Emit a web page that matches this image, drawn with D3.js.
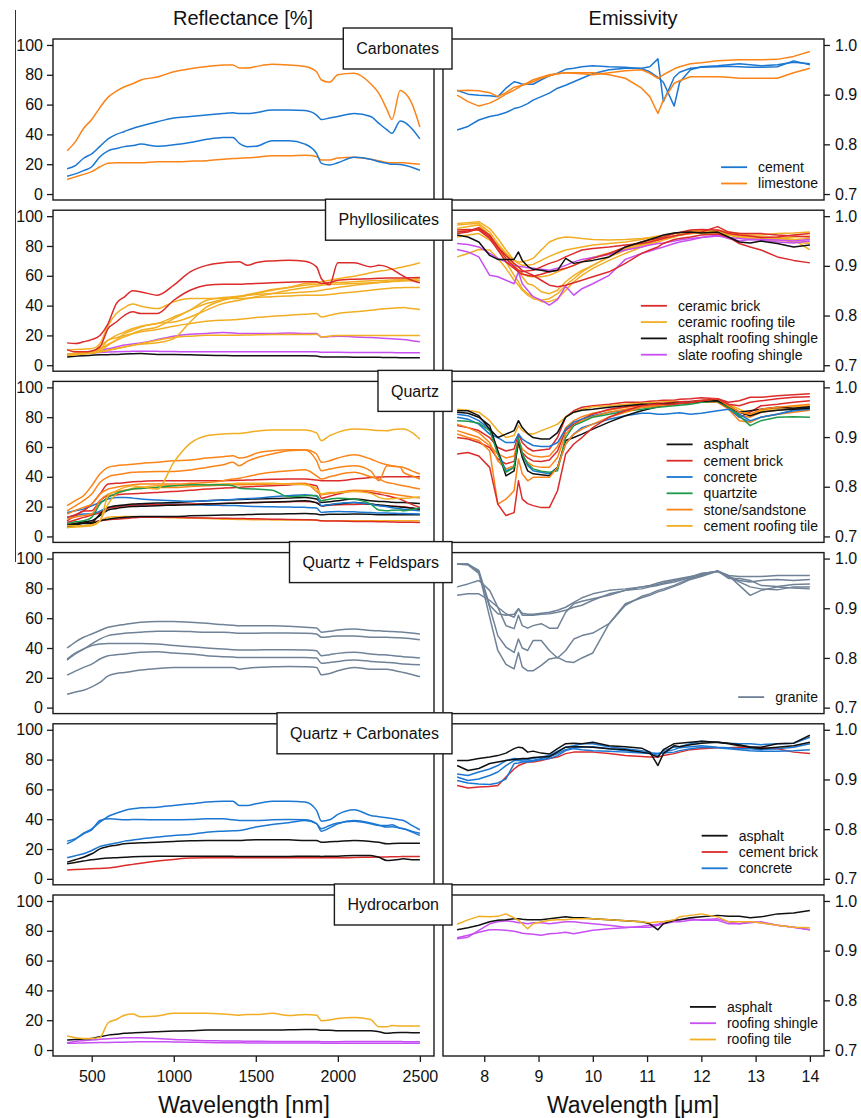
<!DOCTYPE html>
<html>
<head>
<meta charset="utf-8">
<script src="https://cdn.jsdelivr.net/npm/d3@7"></script>
<style>
  body { margin: 0; background: #fff; }
  svg { display: block; }
  text { font-family: "Liberation Sans", Arial, Helvetica, sans-serif; fill: #111; }
</style>
</head>
<body>
<script>
// ---------- sampling grids ----------
const reflWavelengths = [350,400,450,500,550, 600,650,700,750,800, 900,1000,1100,1200,1300,
  1360,1400,1450,1500,1600, 1700,1800,1870,1900,1950, 2000,2100,2200,2250,2300, 2330,2380,2400,2450,2500];
const emisWavelengths = [7.5,7.7,7.9,8.1,8.25, 8.4,8.55,8.63,8.7,8.8, 8.9,9.05,9.2,9.35,9.5,
  9.65,9.8,10.0,10.3,10.6, 10.9,11.05,11.2,11.3,11.5, 11.6,11.8,12.0,12.3,12.5, 12.7,12.9,13.1,13.4,13.7, 14.0];

const panelNames = ["Carbonates", "Phyllosilicates", "Quartz", "Quartz + Feldspars", "Quartz + Carbonates", "Hydrocarbon"];
const reflTicks = [0, 20, 40, 60, 80, 100];
const emisTicks = [0.7, 0.8, 0.9, 1.0];
const reflXTicks = [500, 1000, 1500, 2000, 2500];
const emisXTicks = [8, 9, 10, 11, 12, 13, 14];

// ---------- Carbonates ----------
const carbCement1 = [17,19,24,27,32, 37,40,42,44,45.6, 48.5,51,52,53,54, 54.5,54,54,54.6,56.4, 56.4,56,53,50,51, 52,54,52,47.4,43, 40.7,49,48.5,44,37];
const carbCement2 = [12,13.5,15.7,18.3,25, 29,30.5,31.8,32.5,33.5, 32,33,34.5,36.7,38, 38,34,31.8,32,35.8, 35.8,33.5,27.3,20.6,19.5, 21,24.6,23.3,21.7,20.6, 20,19.8,19.5,18,16];
const carbLime1 = [29,35,44,50,58, 65,69,72,74,76.5, 78.5,82,84,85.5,86.5, 86.6,84.5,84.5,85.5,87, 86.5,85.5,82,76.5,75, 80,81,74,67.5,56.5, 50,69.5,68.5,61,45];
const carbLime2 = [9.8,11.5,13.2,15,18.3, 20.6,21,21,21,21, 21.7,21.7,22,22.4,23.3, 23.8,24,24.3,24.6,25.7, 25.7,26,25.2,22.8,22.8, 24.2,24.6,23.3,22.3,21.2, 21,21,21,20.5,20];

const carbCementE1 = [.829,.836,.849,.856,.859, .864,.872,.874,.877,.882, .889,.896,.903,.913,.919, .926,.933,.942,.950,.953, .953,.956,.972,.886,.935, .945,.953,.955,.956,.957, .956,.955,.955,.956,.968, .960];
const carbCementE2 = [.909,.901,.899,.898,.896, .913,.926,.924,.921,.921, .921,.930,.938,.943,.951, .953,.956,.958,.956,.955, .952,.946,.935,.925,.877, .925,.950,.956,.958,.960, .962,.960,.958,.960,.965, .962];
const carbLimeE1 = [.908,.909,.908,.904,.896, .904,.915,.917,.919,.922, .926,.933,.938,.942,.944, .944,.944,.944,.940,.933, .913,.896,.862,.889,.923, .928,.936,.936,.936,.935, .933,.933,.933,.933,.944, .953];
const carbLimeE2 = [.899,.886,.877,.883,.891, .901,.909,.914,.919,.924, .930,.935,.940,.942,.944, .943,.942,.940,.944,.948, .950,.943,.933,.940,.952, .956,.962,.964,.968,.969, .970,.970,.970,.971,.977, .987];

// ---------- Phyllosilicates ----------
const phylBrick1 = [15,14.5,15.7,17.2,20, 28,41.4,45.9,49.9,49.2, 47,53.7,62.6,67,68.7, 69.2,69.4,67,68.7,70, 70.5,69.8,66,58,54, 68.7,68.7,66,67,66, 64.5,61,59.7,57,55.3];
const phylBrick2 = [10.5,9,9,9.6,12.3, 24.6,29,33.5,35.8,34.7, 34.7,43.6,50.3,53.7,54.4, 54.4,54.4,54.6,54.8,55.3, 55.7,56,56,54.8,55.5, 57,57.7,58,58.3,58.6, 58.6,58.6,58.6,58.7,58.8];
const phylTile1 = [10,10.5,10.8,11.2,14.5, 26.8,34.7,38.7,41,39.6, 38,42.5,44.7,44.7,44.7, 44.7,44.7,45,45.4,45.9, 46.5,47,47,47,47.5, 48.1,49.2,50.3,50.9,51.5, 51.8,52,52.1,52.1,52.1];
const phylTile2 = [7.4,8,8.5,9,11.2, 14,16.8,19,21.3,23.5, 25.7,31.3,37,41.4,44, 45.2,45.9,47,48.1,50.3, 52.1,54.8,55.5,56,57, 58,59.7,62,63,63.8, 64.5,65.5,66,67.3,68.7];
const phylTile3 = [6.7,7.5,8.3,8.7,9, 10,11.2,12.3,13.4,14, 15.1,17.9,29,39.1,43.6, 45.3,46.3,47.4,48.5,50.8, 52.1,53.7,54.3,54.8,55.2, 55.5,56,56.6,56.8,57, 57.2,57.4,57.5,57.3,57];
const phylTile4 = [7,7.5,8,9,12.8, 16.8,20,22.4,24.6,26.2, 28,32.4,37,43.6,45.4, 46,46.3,46.9,47.4,48.1, 48.5,49.2,49.7,50.3,51.2, 52.1,53.7,54.8,55.4,56, 56.3,56.8,57,57.6,58.2];
const phylTile5 = [7.4,7.6,7.8,8,10.5, 16.8,18.5,20,21.2,22.4, 24,26.2,28,29.5,30.2, 30.5,30.9,31.4,32,32.9, 33.5,34.2,34.7,32.4,33.5, 34.7,35.8,36.9,37.5,38, 38.3,38.6,38.7,38,37.4];
const phylTile6 = [6.7,7.2,7.8,8.4,9, 10,11,12.3,13.4,14.5, 16.8,18.6,19.5,20.1,20.1, 20.1,20.1,20.3,20.4,20.6, 20.6,20.6,20.8,19,19.5, 20,20,20,20,20, 20,20,20,20,20];
const phylTile7 = [6.7,7,7.5,8,9.6, 13.5,16.8,21.3,23.5,25.7, 28,29,32.4,37,41.4, 42.8,43.6,44.7,45.9,48.1, 50.3,52,53.2,53.7,54.2, 54.4,54.8,55.3,55.6,55.9, 56.1,56.4,56.5,56.6,56.6];
const phylSlate1 = [7.4,7.8,8.1,8.3,10, 11,12.3,13.5,14.3,15, 17.2,19.5,20.8,21.3,21.9, 21.7,21.3,21.3,21.3,21.3, 21.7,21.3,21.3,19,19.2, 19.5,19,18.6,18.3,17.9, 17.7,17.4,17.2,16.5,15.7];
const phylSlate2 = [6.7,7.5,8,8.3,8.6, 8.8,9,9.2,9.3,9.4, 9.3,9.2,9,9,9, 9,9,9,9,9, 9,9,9,8.7,8.7, 8.7,8.6,8.6,8.5,8.5, 8.5,8.4,8.4,8.3,8.3];
const phylShingle = [5.6,6,6.4,6.7,7, 7.1,7.2,7.5,7.7,7.8, 7.2,7.2,7,6.7,6.5, 6.4,6.4,6.3,6.3,6.3, 6.3,6.3,6.2,5.6,5.6, 5.6,5.4,5.3,5.3,5.2, 5.2,5.1,5.1,5.1,5.1];

const phylShingleE = [.962,.958,.948,.921,.913, .913,.913,.928,.911,.899, .893,.891,.888,.891,.915, .905,.908,.911,.918,.938, .948,.953,.958,.962,.966, .967,.968,.966,.968,.958, .948,.946,.950,.945,.938, .942];
const phylSlateE1 = [.933,.928,.918,.881,.878, .871,.864,.888,.864,.851, .838,.831,.821,.832,.859, .841,.854,.864,.881,.913, .925,.930,.935,.938,.945, .948,.952,.957,.962,.955, .950,.953,.952,.948,.946, .950];
const phylSlateE2 = [.945,.943,.938,.925,.915, .908,.901,.899,.898,.896, .895,.893,.891,.895,.901, .908,.913,.917,.923,.932, .938,.942,.945,.946,.950, .952,.955,.957,.960,.957, .955,.953,.953,.952,.950, .953];
const phylBrickE1 = [.965,.968,.975,.958,.938, .921,.905,.898,.891,.886, .881,.871,.861,.858,.861, .866,.871,.878,.888,.905, .925,.932,.938,.945,.953, .955,.958,.962,.964,.958, .945,.938,.932,.918,.911, .906];
const phylBrickE2 = [.968,.970,.977,.962,.938, .915,.898,.891,.888,.890, .891,.898,.905,.910,.918, .925,.932,.935,.938,.942, .945,.948,.952,.955,.960, .962,.966,.968,.979,.968, .965,.965,.965,.962,.960, .958];
const phylBrickE3 = [.972,.973,.972,.955,.932, .908,.895,.888,.883,.881, .879,.883,.888,.891,.895, .901,.908,.915,.925,.938, .948,.952,.955,.958,.965, .967,.972,.973,.972,.965, .962,.960,.957,.958,.962, .965];
const phylTileE1 = [.985,.987,.989,.975,.955, .932,.911,.908,.908,.911, .915,.932,.948,.955,.958, .957,.955,.953,.952,.953, .955,.957,.960,.961,.965, .966,.970,.972,.968,.965, .962,.960,.958,.955,.952, .948];
const phylTileE2 = [.975,.979,.982,.962,.935, .908,.881,.868,.854,.844, .838,.828,.828,.834,.851, .868,.881,.895,.911,.925, .938,.944,.948,.952,.958, .962,.965,.968,.972,.968, .962,.958,.958,.957,.953, .932];
const phylTileE3 = [.982,.984,.985,.968,.945, .925,.901,.888,.878,.864, .861,.848,.844,.851,.868, .881,.891,.901,.918,.932, .942,.947,.952,.955,.960, .962,.965,.966,.965,.962, .960,.958,.957,.955,.958, .960];
const phylTileE4 = [.958,.962,.965,.952,.938, .921,.901,.891,.885,.879, .878,.878,.881,.888,.895, .901,.908,.917,.926,.935, .945,.949,.953,.956,.960, .962,.965,.968,.970,.968, .965,.962,.962,.965,.966, .968];
const phylTileE5 = [.968,.972,.973,.958,.942, .925,.911,.905,.901,.901, .903,.911,.919,.926,.932, .935,.938,.942,.945,.948, .953,.956,.958,.961,.965, .967,.968,.970,.968,.965, .958,.955,.952,.950,.953, .955];
const phylTileE6 = [.918,.925,.933,.932,.915, .895,.871,.861,.851,.841, .834,.831,.834,.844,.861, .874,.888,.901,.918,.932, .942,.946,.952,.955,.960, .962,.965,.968,.966,.962, .957,.955,.955,.953,.948, .945];

// ---------- Quartz ----------
const qzRoofTile1 = [7.2,7.2,7.2,7.8,10.5, 27.3,30.6,32.9,34,33.3, 31.8,49.7,62.4,67.6,68.7, 69,69.1,69.8,70.5,71.4, 71.4,71.4,69.5,64.2,67.6, 69.8,72,71.5,71,70.9, 71.5,72,72,69.8,65.3];
const qzRoofTile2 = [6.5,6.7,7,7.8,10.5, 12.8,13.2,13.4,13.4,13.2, 12.8,12.5,12.3,12,11.6, 11.5,11.4,11.3,11.2,11.1, 11,11,10.8,10.5,10.5, 10.5,10.5,10.5,10.5,10.5, 10.5,10.5,10.5,10.5,10.5];
const qzRoofTile3 = [6,6.3,6.7,7.2,10.5, 21.7,28.4,30.5,32.4,32.9, 34,34,34.5,34.7,35.1, 35.4,35.6,35.6,35.6,35.6, 35.1,34.7,32,28.4,29.5, 29.5,30.2,28.9,26.2,25.1, 25.3,25.6,25.5,26,26.6];
const qzSand1 = [20.6,24,27.3,34,41.8, 46.3,47.4,48,48.5,49, 49.7,50.8,51.2,52.6,53.5, 54.1,52.6,53.5,55.7,57.5, 58.2,58.2,55.3,49.7,50.8, 52.6,54.8,51.9,49.7,48.1, 47.5,46.6,46.3,44,41.8];
const qzSand2 = [17.2,20.5,24,28.4,36.2, 40,41.4,42.2,43,43.3, 43.6,43.6,44.5,46.3,48.1, 49.7,47.4,50.5,52.6,55.3, 57.5,58,50.8,44,45.2, 46.3,47.4,44,37.4,47.4, 47,46.5,43,40.7,38.5];
const qzSand3 = [15,17.5,19.5,21.7,28.4, 31.8,33,34,34.6,35.1, 35.1,35.1,35.6,36.2,37.4, 38.5,39.1,40.2,41.4,43, 44,44.7,40.7,38.5,40, 41.4,43,40,38.5,36.2, 35.6,34.4,34,32.9,31.8];
const qzSand4 = [11.6,13,14,15,24, 28.4,30,31,31.8,32.2, 32.9,32.9,33.5,34,34.4, 34.6,34.7,34.8,35,35.1, 35.4,35.6,30.2,28,28.8, 29.5,31,30.6,29.8,28.9, 28.4,27.6,27.3,26.5,25.7];
const qzBrick1 = [12.8,14.5,17.2,21.7,28.4, 35.1,35.6,36,36.7,36.9, 37.4,37.4,37.4,37.4,37.4, 37.6,37.7,37.8,38,38.3, 38.5,38.5,37.8,37.4,37.4, 37.4,38.5,39.6,39.8,40, 40,40,40,40,40];
const qzBrick2 = [10.5,14,17,17.2,24, 27.3,27.8,28.4,28.7,28.9, 29.5,30.2,30.9,31.8,32.4, 32.7,32.9,33.3,33.6,34, 34.5,35.1,34,25.7,27, 28.4,30.6,29.5,28.4,27.3, 26.5,25,24,21.5,19.5];
const qzBrick3 = [9.4,11,12.8,14.3,16, 19,19.8,20.6,21,21.1, 21.3,21.5,21.7,21.9,22.1, 22.3,22.4,22.6,22.8,23, 23.3,23.5,22.8,20.6,21, 21.3,21.5,21.7,21,20.5, 20.2,20,19.9,19,18.3];
const qzBrick4 = [8.3,8.8,9.2,9.4,10.5, 11.2,11.6,12,12.5,12.8, 12.8,12.8,12.5,12.3,12.2, 12.1,12.1,11.9,11.8,11.6, 11.4,11.2,11,10.5,10.3, 10.3,10.1,10,9.9,9.8, 9.7,9.6,9.6,9.5,9.4];
const qzConc1 = [16.1,17.2,18.3,20.6,22.8, 25.1,26.2,26.2,25.7,25.1, 24.4,24,23.6,24,24.4, 24.8,25.1,25.4,25.7,26.6, 27.3,28,27,20.6,21.3, 22.1,22.8,21.7,20.6,19.9, 19.3,18.6,18.3,17.8,17.2];
const qzConc2 = [12.8,14,15,15,17, 19.2,20.4,20.8,21,21.3, 21.5,21.7,21.5,21,20.8, 20.7,20.6,20.3,20.1,19.9, 19.7,19.5,19,16.1,16.5, 16.8,16.5,16.1,15.8,15.7, 15.6,15.4,15.4,15.2,15];
const qzQuartzite = [8.3,9.8,10.5,12.8,21.7, 26.2,28.9,30.6,31.8,32.2, 32.9,34,34.7,34.5,34.7, 34,32.4,32,31.8,31, 26.6,27.3,27.5,24,25, 25.7,25,21.7,17.7,17.2, 17.5,17.7,17.2,18,19.5];
const qzAsph1 = [6,7.5,9,9.4,15, 19.5,20.6,21.1,21.7,22, 22.4,22.8,23.3,23.9,24.4, 24.6,24.8,25,25.1,25.4, 25.7,26.2,25.1,22.8,23.3, 23.9,25.1,24,23.5,23.3, 23,22.8,22.8,22.4,22.1];
const qzAsph2 = [7.2,8.5,9.8,10.5,14, 17.7,18.8,19.5,20,20.3, 20.6,21,21.3,21.7,22.1, 22.3,22.4,22.6,22.8,23.1, 23.5,23.9,22.5,20.6,21.3, 21.7,22.8,21.7,21.1,20.6, 20.2,19.8,19.5,19,18.3];
const qzAsph3 = [7.8,8.3,8.7,8.7,10.5, 11.5,12.3,12.8,13.2,13.4, 13.4,13.4,13.8,14.1,14.3, 14.4,14.5,14.7,14.8,15, 15.2,15.4,15,14.5,14.8, 14.8,15,14.8,14.6,14.5, 14.5,14.5,14.5,14.5,14.5];

const qzBrickE1 = [.866,.869,.862,.839,.765, .742,.748,.812,.775,.766, .762,.758,.758,.792,.866, .886,.899,.919,.940,.953, .963,.965,.966,.966,.966, .968,.970,.973,.977,.966, .963,.970,.973,.977,.980, .981];
const qzBrickE2 = [.923,.919,.913,.899,.879, .872,.876,.906,.889,.878, .872,.874,.876,.899,.940, .953,.960,.963,.966,.970, .970,.972,.973,.974,.974, .976,.977,.979,.977,.970, .973,.980,.980,.983,.985, .987];
const qzBrickE3 = [.899,.896,.889,.879,.856, .846,.851,.889,.869,.858, .852,.851,.854,.872,.913, .926,.936,.946,.956,.961, .965,.966,.968,.968,.970, .971,.972,.974,.977,.960, .940,.950,.963,.966,.970, .973];
const qzSandE1 = [.906,.899,.893,.872,.765, .775,.792,.856,.826,.812, .819,.819,.819,.839,.886, .906,.916,.926,.940,.950, .960,.961,.963,.964,.966, .968,.970,.973,.977,.963, .950,.946,.956,.960,.963, .966];
const qzSandE2 = [.926,.919,.909,.889,.852, .836,.842,.886,.862,.849, .842,.839,.839,.859,.906, .923,.933,.941,.950,.956, .961,.962,.963,.964,.966, .968,.969,.970,.970,.956, .933,.930,.940,.946,.950, .954];
const qzSandE3 = [.913,.906,.899,.883,.866, .858,.862,.896,.876,.867, .862,.860,.862,.881,.919, .933,.941,.948,.954,.960, .963,.964,.965,.966,.966, .968,.969,.971,.972,.961, .943,.940,.950,.954,.958, .961];
const qzQuartziteE = [.933,.932,.928,.913,.866, .829,.839,.899,.866,.846, .836,.831,.829,.832,.899, .923,.930,.940,.946,.952, .956,.958,.960,.961,.963, .964,.966,.970,.972,.960, .943,.923,.933,.940,.941, .940];
const qzConcE1 = [.946,.943,.933,.916,.872, .832,.839,.893,.866,.843, .832,.829,.826,.839,.886, .906,.919,.926,.936,.943, .948,.948,.946,.946,.948, .949,.946,.948,.953,.956, .946,.933,.940,.946,.953, .956];
const qzConcE2 = [.940,.936,.926,.906,.899, .889,.889,.906,.896,.889, .883,.881,.881,.889,.916, .930,.936,.943,.950,.954, .960,.961,.963,.964,.966, .967,.968,.972,.973,.956, .940,.930,.940,.946,.954, .960];
const qzAsphE1 = [.953,.953,.943,.916,.899, .906,.913,.933,.919,.907, .899,.896,.896,.909,.940, .950,.954,.956,.960,.963, .966,.966,.966,.967,.968, .968,.970,.972,.973,.963, .950,.953,.956,.960,.958, .961];
const qzAsphE2 = [.950,.948,.940,.923,.872, .822,.832,.893,.859,.832, .826,.824,.822,.839,.893, .899,.906,.916,.930,.943, .953,.957,.961,.963,.966, .968,.970,.973,.972,.960, .950,.943,.950,.954,.956, .958];
const qzRoofTileE = [.956,.954,.950,.933,.913, .899,.903,.923,.913,.907, .906,.913,.919,.926,.940, .950,.956,.961,.963,.966, .968,.969,.970,.971,.972, .971,.970,.970,.973,.966, .956,.946,.953,.958,.961, .963];

// ---------- Quartz + Feldspars ----------
const fsGranite1 = [40,44,47.2,49.4,51.7, 53.9,55,55.8,56.6,57.3, 57.8,57.8,57.3,56.6,55.7, 55.3,55,55,55,55, 54.6,53.9,53.5,50.6,51.2, 52.1,52.8,51.7,51.5,51.2, 51,50.7,50.6,50,49.4];
const fsGranite2 = [31.9,36,39.3,42.7,46, 48.3,49.2,49.9,50.3,50.6, 51.2,51.2,51,50.6,50.6, 50.2,49.9,49.9,49.9,50.1, 50.1,49.9,49.4,47.2,47.6, 48.1,48.1,47.2,47.2,47.2, 47,46.8,46.7,46.2,45.6];
const fsGranite3 = [32.6,36.5,39.3,41.6,42.7, 43.1,43.1,43.1,43.1,43.1, 42.7,41.6,40.9,40,39.3, 38.9,38.7,38.7,38.7,38.9, 38.9,38.7,38.2,34.8,35.5, 36.4,37.1,36,35.5,35.3, 35,34.4,34.2,33.8,33.3];
const fsGranite4 = [21.8,24.5,27,29.2,32.6, 34.8,35.5,36,36.6,37.1, 37.5,36.6,36,34.8,34.2, 33.9,33.7,33.7,33.7,33.7, 33.7,33.7,33.3,29.7,30.3, 31,31.9,31,30.6,30.3, 30.1,29.5,29.2,29,28.8];
const fsGranite5 = [9,10.5,11.7,13.9,16.9, 21.3,22.9,23.6,24.4,25.2, 26.3,27,27,27,27, 27,25.8,26.5,27,27.4, 27.6,27.4,27,22,22.9, 24.7,27,25.8,25.8,25.8, 25.2,24,23.6,22.2,20.7];

const fsGraniteE1 = [.989,.989,.973,.882,.815, .787,.778,.811,.782,.774, .774,.785,.798,.801,.793, .791,.800,.810,.869,.909, .921,.926,.933,.936,.944, .948,.958,.964,.975,.966, .946,.926,.936,.943,.941, .939];
const fsGraniteE2 = [.989,.987,.970,.902,.845, .822,.811,.838,.820,.815, .835,.835,.815,.800,.815, .838,.845,.850,.869,.906, .924,.929,.936,.939,.946, .951,.960,.966,.975,.963, .953,.943,.939,.937,.943, .943];
const fsGraniteE3 = [.943,.949,.956,.936,.902, .865,.859,.886,.865,.860, .865,.869,.860,.860,.892, .909,.914,.919,.926,.936, .943,.946,.951,.954,.958, .960,.964,.968,.975,.960, .960,.956,.946,.944,.948, .949];
const fsGraniteE4 = [.926,.929,.929,.916,.902, .889,.882,.899,.886,.886, .886,.888,.889,.892,.896, .902,.906,.916,.929,.936, .939,.943,.946,.949,.953, .956,.962,.970,.974,.966, .964,.964,.964,.966,.966, .966];
const fsGraniteE5 = [.989,.989,.976,.906,.889, .886,.888,.899,.890,.888, .888,.890,.892,.896,.902, .912,.921,.929,.936,.939, .943,.945,.948,.951,.956, .958,.963,.970,.974,.964, .956,.953,.956,.958,.956, .958];

// ---------- Quartz + Carbonates ----------
const qcConc1 = [25.3,27,30.6,33.6,38, 41.8,44,45.9,47,47.7, 48.1,49.2,50.3,51.5,52.1, 52,49.2,49.2,50.3,52.1, 52.1,51.5,45.9,38.7,39.6, 43.2,46.3,42.5,41.7,40.9, 40.4,39.5,39.1,35.8,32.9];
const qcConc2 = [23.5,26.5,30.2,32.9,39.1, 40.3,40,39.6,39.8,39.8, 39.6,39.6,39.8,40.3,40.3, 39.6,39.1,39.1,39.1,39.6, 39.8,39.6,37,32,34.2, 36.9,39.1,37.4,36,34.7, 35,34,33.6,31.5,29.1];
const qcConc3 = [14.1,15.5,16.8,19,21.7, 23,24,25.3,26,26.8, 28,29.1,29.8,31.3,32, 32.3,32.4,33.5,34.7,36.5, 37.6,39.1,37,33.6,35.8, 37.4,38.7,37,35.8,35.8, 36.2,34,33.6,32,30.6];
const qcAsph1 = [11.2,12.8,14.5,16.8,20.1, 21.7,22.6,23.5,23.9,24.2, 24.6,25.1,25.5,25.7,25.7, 25.7,25.7,26,26.2,26.2, 26.2,25.7,25.7,24.6,24.8, 25.1,25.7,25.1,24.5,23.5, 23.7,23.9,23.9,23.9,23.9];
const qcAsph2 = [10.1,11,11.9,12.8,13.4, 13.9,14.2,14.5,14.8,15, 15.2,15.2,15.2,15.2,15.2, 15.1,15,15,15,15, 15,15.2,15.2,15,15.2, 15.2,15.7,15.7,14.5,12.3, 12.5,13.2,13.4,12.8,12.8];
const qcBrick = [6,6.3,6.5,6.7,7, 7.2,8,8.9,9.7,10.5, 11.9,13,13.9,14.1,14.1, 14.1,14.1,14.1,14.1,14.1, 14.1,14.1,14.1,14.1,14.1, 14.1,14.3,14.5,14.6,14.7, 14.8,14.9,15,15,15];

const qcAsphE1 = [.938,.938,.942,.945,.948, .953,.962,.965,.964,.955, .957,.953,.951,.962,.972, .973,.972,.975,.968,.966, .963,.955,.928,.952,.968, .966,.970,.973,.975,.973, .970,.965,.962,.965,.968, .975];
const qcAsphE2 = [.928,.918,.922,.932,.935, .938,.940,.941,.942,.942, .944,.945,.946,.955,.965, .966,.966,.965,.962,.960, .955,.952,.945,.960,.972, .973,.975,.977,.975,.972, .968,.966,.965,.972,.973, .989];
const qcBrickE = [.888,.883,.885,.886,.888, .905,.921,.928,.931,.935, .935,.938,.942,.945,.952, .955,.955,.955,.952,.948, .946,.945,.945,.948,.952, .955,.960,.962,.964,.964, .965,.964,.964,.962,.955, .952];
const qcConcE1 = [.911,.908,.915,.921,.928, .938,.942,.941,.940,.940, .942,.945,.948,.957,.965, .968,.972,.972,.966,.962, .958,.955,.948,.958,.965, .966,.972,.977,.975,.973, .972,.972,.970,.972,.973, .985];
const qcConcE2 = [.905,.898,.901,.908,.915, .928,.938,.938,.937,.937, .938,.942,.945,.952,.960, .964,.965,.966,.962,.958, .955,.953,.952,.955,.960, .964,.966,.968,.965,.964, .962,.962,.960,.962,.965, .972];
const qcConcE3 = [.898,.893,.891,.890,.893, .901,.932,.933,.935,.935, .937,.940,.942,.948,.958, .962,.960,.958,.957,.955, .953,.952,.952,.953,.955, .958,.962,.965,.964,.962, .960,.958,.957,.957,.958, .960];

// ---------- Hydrocarbon ----------
const hcTile = [9.4,8.3,7.8,7.8,8.5, 18.3,20.5,23.4,24.1,22.3, 22.8,24.6,24.6,24.6,24.1, 23.7,23.4,23.9,23.9,24.6, 23.2,23.9,23.4,19.6,20.1, 21.2,21.9,20.5,15.6,15.6, 16.5,16.1,16.1,16.1,16.1];
const hcAsph = [6.7,7,7.4,7.8,8.9, 10,10.6,11.2,11.5,11.8, 12.3,12.7,12.9,13.4,13.4, 13.4,13.4,13.4,13.4,13.4, 13.6,13.8,13.8,13.2,13.2, 12.9,12.9,12.9,12.3,11.2, 11.5,11.8,11.8,11.6,11.6];
const hcShingle1 = [4.9,5.8,6.3,6.7,7.2, 7.6,7.9,8.3,8.3,8.3, 7.8,7.1,6.7,6.3,6.1, 6,6,5.9,5.9,5.8, 5.8,5.8,5.8,5.6,5.6, 5.6,5.8,5.8,5.8,5.8, 5.8,5.7,5.6,5.6,5.6];
const hcShingle2 = [4.5,4.6,4.8,4.9,5, 5.1,5.2,5.3,5.4,5.6, 5.6,5.4,5.3,5,4.9, 4.9,4.9,4.8,4.8,4.8, 4.7,4.7,4.7,4.6,4.6, 4.6,4.6,4.6,4.6,4.5, 4.5,4.5,4.5,4.5,4.5];

const hcAsphE = [.942,.946,.951,.958,.961, .962,.964,.964,.963,.962, .962,.962,.964,.966,.968, .966,.966,.964,.962,.960, .958,.954,.942,.954,.961, .962,.966,.968,.971,.969, .969,.966,.968,.974,.976, .981];
const hcShingleE1 = [.924,.927,.941,.954,.958, .960,.958,.956,.956,.954, .956,.956,.954,.956,.958, .958,.956,.954,.951,.947, .947,.947,.951,.954,.958, .958,.961,.962,.964,.958, .954,.958,.956,.951,.947, .942];
const hcShingleE2 = [.926,.931,.937,.942,.942, .941,.939,.937,.935,.934, .933,.931,.934,.935,.937, .934,.937,.941,.944,.946, .949,.951,.953,.958,.961, .962,.964,.961,.961,.954, .954,.956,.958,.951,.947, .942];
const hcTileE = [.953,.962,.969,.968,.969, .974,.966,.961,.954,.944, .954,.958,.961,.962,.962, .964,.964,.964,.962,.960, .958,.956,.958,.958,.962, .968,.971,.974,.968,.958, .958,.958,.956,.951,.947, .946];

// ---------- material colours ----------
const BLUE = "#1b77d2", ORANGE = "#fb8419", RED = "#dc2b2b", YELLOW = "#f2ae22",
      PURPLE = "#c84ff3", GREEN = "#1e9a4c", SLATE = "#6f8297", BLACK = "#111111";
const materialColor = {
  "cement": BLUE, "limestone": ORANGE,
  "ceramic brick": RED, "ceramic roofing tile": YELLOW,
  "asphalt roofing shingle": BLACK, "slate roofing shingle": PURPLE,
  "asphalt": BLACK, "cement brick": RED, "concrete": BLUE, "quartzite": GREEN,
  "stone/sandstone": ORANGE, "cement roofing tile": YELLOW,
  "granite": SLATE, "roofing shingle": PURPLE, "roofing tile": YELLOW
};

// ---------- per-panel tables ----------
const rows = [
  { name: panelNames[0], legend: ["cement", "limestone"],
    refl: [["limestone", carbLime2], ["cement", carbCement2], ["cement", carbCement1], ["limestone", carbLime1]],
    emis: [["cement", carbCementE1], ["cement", carbCementE2], ["limestone", carbLimeE1], ["limestone", carbLimeE2]] },
  { name: panelNames[1], legend: ["ceramic brick", "ceramic roofing tile", "asphalt roofing shingle", "slate roofing shingle"],
    refl: [["asphalt roofing shingle", phylShingle], ["slate roofing shingle", phylSlate2], ["slate roofing shingle", phylSlate1],
           ["ceramic roofing tile", phylTile6], ["ceramic roofing tile", phylTile5], ["ceramic roofing tile", phylTile4],
           ["ceramic roofing tile", phylTile3], ["ceramic roofing tile", phylTile7], ["ceramic roofing tile", phylTile2],
           ["ceramic roofing tile", phylTile1], ["ceramic brick", phylBrick2], ["ceramic brick", phylBrick1]],
    emis: [["ceramic roofing tile", phylTileE1], ["ceramic roofing tile", phylTileE2], ["ceramic roofing tile", phylTileE3],
           ["ceramic roofing tile", phylTileE4], ["ceramic roofing tile", phylTileE5], ["ceramic roofing tile", phylTileE6],
           ["slate roofing shingle", phylSlateE1], ["slate roofing shingle", phylSlateE2],
           ["ceramic brick", phylBrickE1], ["ceramic brick", phylBrickE2], ["ceramic brick", phylBrickE3],
           ["asphalt roofing shingle", phylShingleE]] },
  { name: panelNames[2], legend: ["asphalt", "cement brick", "concrete", "quartzite", "stone/sandstone", "cement roofing tile"],
    refl: [["cement roofing tile", qzRoofTile2], ["cement brick", qzBrick4], ["asphalt", qzAsph3],
           ["concrete", qzConc2], ["cement brick", qzBrick3], ["asphalt", qzAsph2], ["asphalt", qzAsph1],
           ["concrete", qzConc1], ["cement brick", qzBrick2], ["stone/sandstone", qzSand4], ["cement roofing tile", qzRoofTile3],
           ["quartzite", qzQuartzite], ["cement brick", qzBrick1], ["stone/sandstone", qzSand3],
           ["stone/sandstone", qzSand2], ["stone/sandstone", qzSand1], ["cement roofing tile", qzRoofTile1]],
    emis: [["cement brick", qzBrickE2], ["cement roofing tile", qzRoofTileE], ["stone/sandstone", qzSandE3],
           ["cement brick", qzBrickE3], ["concrete", qzConcE2], ["stone/sandstone", qzSandE2], ["concrete", qzConcE1],
           ["asphalt", qzAsphE2], ["quartzite", qzQuartziteE], ["asphalt", qzAsphE1],
           ["stone/sandstone", qzSandE1], ["cement brick", qzBrickE1]] },
  { name: panelNames[3], legend: ["granite"],
    refl: [["granite", fsGranite1], ["granite", fsGranite2], ["granite", fsGranite3], ["granite", fsGranite4], ["granite", fsGranite5]],
    emis: [["granite", fsGraniteE1], ["granite", fsGraniteE2], ["granite", fsGraniteE3], ["granite", fsGraniteE4], ["granite", fsGraniteE5]] },
  { name: panelNames[4], legend: ["asphalt", "cement brick", "concrete"],
    refl: [["cement brick", qcBrick], ["asphalt", qcAsph2], ["asphalt", qcAsph1],
           ["concrete", qcConc3], ["concrete", qcConc2], ["concrete", qcConc1]],
    emis: [["cement brick", qcBrickE], ["concrete", qcConcE3], ["concrete", qcConcE2], ["concrete", qcConcE1],
           ["asphalt", qcAsphE2], ["asphalt", qcAsphE1]] },
  { name: panelNames[5], legend: ["asphalt", "roofing shingle", "roofing tile"],
    refl: [["roofing shingle", hcShingle2], ["roofing shingle", hcShingle1], ["asphalt", hcAsph], ["roofing tile", hcTile]],
    emis: [["roofing shingle", hcShingleE2], ["roofing shingle", hcShingleE1], ["asphalt", hcAsphE], ["roofing tile", hcTileE]] }
];

// ---------- layout ----------
const W = 861, H = 1118;
const leftX = [53, 434], rightX = [443, 824];
const rowStep = 171.2, firstTop = 39, frameH = 161;

const svg = d3.select("body").append("svg").attr("width", W).attr("height", H);

// x scales with 4% padding around the sampled range
const xRefl = d3.scaleLinear().domain([264, 2586]).range(leftX);
const xEmis = d3.scaleLinear().domain([7.24, 14.26]).range(rightX);

const gFrames = svg.append("g");
const gLines = svg.append("g");
const gAxes = svg.append("g");
const gBoxes = svg.append("g");
const gLegend = svg.append("g");

const defs = svg.append("defs");

function styleAxis(a) {
  a.select(".domain").remove();
  a.selectAll("line").attr("stroke", "#1a1a1a").attr("stroke-width", 1.3);
  a.selectAll("text").attr("font-size", 16).attr("font-family", null).attr("fill", "#111");
}

rows.forEach((row, i) => {
  const top = firstTop + i * rowStep;
  const bottom = top + frameH;
  const yRefl = d3.scaleLinear().domain([-4, 104]).range([bottom, top]);
  const yEmis = d3.scaleLinear().domain([0.688, 1.012]).range([bottom, top]);

  // clip regions
  defs.append("clipPath").attr("id", `clipL${i}`).append("rect")
    .attr("x", leftX[0]).attr("y", top).attr("width", leftX[1] - leftX[0]).attr("height", frameH);
  defs.append("clipPath").attr("id", `clipR${i}`).append("rect")
    .attr("x", rightX[0]).attr("y", top).attr("width", rightX[1] - rightX[0]).attr("height", frameH);

  // frames
  [leftX, rightX].forEach(xr => {
    gFrames.append("rect")
      .attr("x", xr[0]).attr("y", top).attr("width", xr[1] - xr[0]).attr("height", frameH)
      .attr("fill", "none").attr("stroke", "#1a1a1a").attr("stroke-width", 1.4);
  });

  // reflectance spectra
  const reflLine = d3.line()
    .x((d, k) => xRefl(reflWavelengths[k]))
    .y(d => yRefl(d))
    .curve(d3.curveMonotoneX);
  gLines.append("g").attr("clip-path", `url(#clipL${i})`)
    .selectAll("path").data(row.refl).join("path")
    .attr("d", d => reflLine(d[1]))
    .attr("fill", "none")
    .attr("stroke", d => materialColor[d[0]])
    .attr("stroke-width", 1.5)
    .attr("stroke-linejoin", "round");

  // emissivity spectra
  const emisLine = d3.line()
    .x((d, k) => xEmis(emisWavelengths[k]))
    .y(d => yEmis(d))
    .curve(d3.curveLinear);
  gLines.append("g").attr("clip-path", `url(#clipR${i})`)
    .selectAll("path").data(row.emis).join("path")
    .attr("d", d => emisLine(d[1]))
    .attr("fill", "none")
    .attr("stroke", d => materialColor[d[0]])
    .attr("stroke-width", 1.5)
    .attr("stroke-linejoin", "round");

  // y axes
  styleAxis(gAxes.append("g").attr("transform", `translate(${leftX[0]},0)`)
    .call(d3.axisLeft(yRefl).tickValues(reflTicks).tickFormat(d3.format("d")).tickSize(6).tickPadding(4)));
  styleAxis(gAxes.append("g").attr("transform", `translate(${rightX[1]},0)`)
    .call(d3.axisRight(yEmis).tickValues(emisTicks).tickFormat(d3.format(".1f")).tickSize(6).tickPadding(5)));

  // x axes on the bottom row only
  if (i === rows.length - 1) {
    styleAxis(gAxes.append("g").attr("transform", `translate(0,${bottom})`)
      .call(d3.axisBottom(xRefl).tickValues(reflXTicks).tickFormat(d3.format("d")).tickSize(6).tickPadding(9)));
    styleAxis(gAxes.append("g").attr("transform", `translate(0,${bottom})`)
      .call(d3.axisBottom(xEmis).tickValues(emisXTicks).tickFormat(d3.format("d")).tickSize(6).tickPadding(9)));
  }

  // panel name box, straddling the two columns
  const box = gBoxes.append("g");
  const label = box.append("text")
    .attr("font-size", 16).attr("text-anchor", "middle")
    .text(row.name);
  const tw = label.node().getComputedTextLength();
  const bw = tw + 26, bx1 = 452, by0 = top - 11, bh = 41;
  box.insert("rect", "text")
    .attr("x", bx1 - bw).attr("y", by0).attr("width", bw).attr("height", bh)
    .attr("fill", "#fff").attr("stroke", "#1a1a1a").attr("stroke-width", 1.4);
  label.attr("x", bx1 - bw / 2).attr("y", by0 + bh / 2).attr("dy", "0.36em");

  // legend (bottom-right of the emissivity panel)
  const lg = gLegend.append("g");
  const n = row.legend.length;
  const items = lg.selectAll("g").data(row.legend).join("g");
  const texts = items.append("text").attr("font-size", 14).text(d => d);
  let maxW = 0;
  texts.each(function () { maxW = Math.max(maxW, this.getComputedTextLength()); });
  const tx = 818 - maxW;
  items.each(function (d, j) {
    const cy = bottom - 16.5 - (n - 1 - j) * 16.3;
    const g = d3.select(this);
    g.select("text").attr("x", tx).attr("y", cy).attr("dy", "0.35em");
    g.append("line").attr("x1", tx - 37).attr("x2", tx - 11).attr("y1", cy).attr("y2", cy)
      .attr("stroke", materialColor[d]).attr("stroke-width", 1.8);
  });
});

// column titles
svg.append("text").attr("x", 243).attr("y", 25).attr("text-anchor", "middle")
  .attr("font-size", 20).text("Reflectance [%]");
svg.append("text").attr("x", 633).attr("y", 25).attr("text-anchor", "middle")
  .attr("font-size", 20).text("Emissivity");

// x-axis titles
svg.append("text").attr("x", 244).attr("y", 1113).attr("text-anchor", "middle")
  .attr("font-size", 23).text("Wavelength [nm]");
svg.append("text").attr("x", 633).attr("y", 1113).attr("text-anchor", "middle")
  .attr("font-size", 23).text("Wavelength [μm]");

// thin rule along the left margin
svg.append("line").attr("x1", 15.5).attr("x2", 15.5).attr("y1", 10).attr("y2", 562)
  .attr("stroke", "#333").attr("stroke-width", 1);
</script>
</body>
</html>
